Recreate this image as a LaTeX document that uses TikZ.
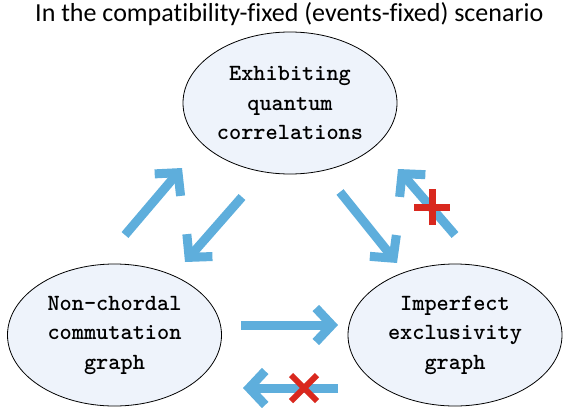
\documentclass[tikz,border=0pt]{standalone}
\usepackage{fontspec}
\newfontfamily\titlefont[Ligatures=NoCommon]{Carlito}
\usetikzlibrary{shapes.geometric,arrows.meta}
\definecolor{ellfill}{RGB}{238,243,251}
\definecolor{arrblue}{RGB}{94,174,220}
\definecolor{markred}{RGB}{217,40,30}
\begin{document}
\begin{tikzpicture}[x=1pt,y=-1pt,
  ellnode/.style={ellipse,draw=black,line width=0.8pt,fill=ellfill,inner sep=0pt,
    minimum width=214pt,minimum height=142pt,align=center,
    font=\fontsize{23.2}{29.5}\selectfont\ttfamily\bfseries},
  bigarrow/.style={draw=arrblue,line width=9pt,line cap=butt,
    -{Straight Barb[length=16pt,width=34pt]}},
  redmark/.style={draw=markred,line cap=butt}]
\useasboundingbox (0,0) rectangle (564,407);
\node[anchor=base west,inner sep=0pt,font=\titlefont\fontsize{26}{28}\selectfont] (title) at (35,21)
  {In the compatibility-fixed (events-fixed) scenario};
\node[ellnode] (top) at (290,103) {Exhibiting\\quantum\\correlations};
\node[ellnode] (left) at (114.5,335) {Non-chordal\\commutation\\graph};
\node[ellnode] (right) at (455,335) {Imperfect\\exclusivity\\graph};
% arrow end coordinates
\coordinate (a1s) at (125,235); \coordinate (a1e) at (182,168);
\coordinate (a2s) at (242,197); \coordinate (a2e) at (185,262);
\coordinate (a3s) at (340,192); \coordinate (a3e) at (397,263);
\coordinate (a4s) at (455,235); \coordinate (a4e) at (398,169);
\coordinate (a5s) at (241,325); \coordinate (a5e) at (338,325);
\coordinate (a6s) at (338,388); \coordinate (a6e) at (243,388);
\draw[bigarrow] (a1s) -- (a1e);
\draw[bigarrow] (a2s) -- (a2e);
\draw[bigarrow] (a3s) -- (a3e);
\draw[bigarrow] (a4s) -- (a4e);
\draw[bigarrow] (a5s) -- (a5e);
\draw[bigarrow] (a6s) -- (a6e);
% red plus
\coordinate (plus) at (432,207);
\draw[redmark,line width=7pt] ([yshift=-18pt]plus) -- ([yshift=18pt]plus);
\draw[redmark,line width=7pt] ([xshift=-18pt]plus) -- ([xshift=18pt]plus);
% red cross
\coordinate (cross) at (304,388);
\draw[redmark,line width=6pt] ([shift={(-13,-13)}]cross) -- ([shift={(13,13)}]cross);
\draw[redmark,line width=6pt] ([shift={(-13,13)}]cross) -- ([shift={(13,-13)}]cross);
\end{tikzpicture}
\end{document}
